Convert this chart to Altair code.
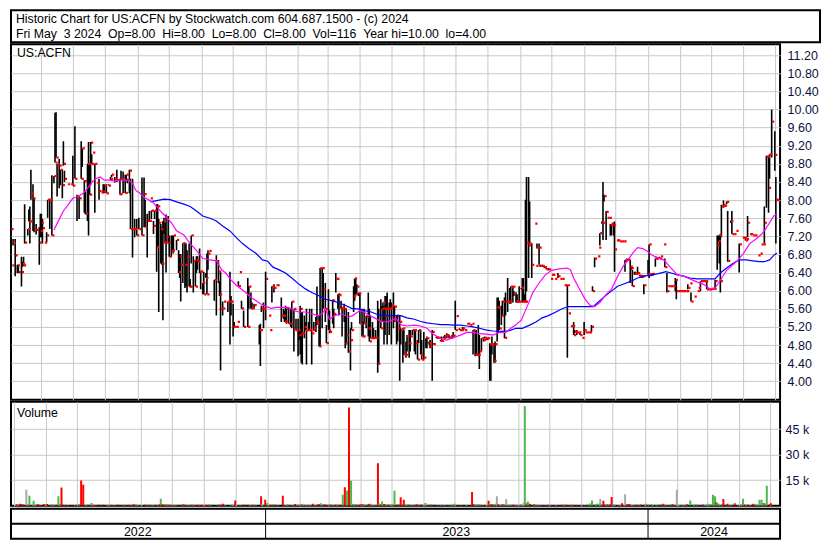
import altair as alt
import numpy as np
import pandas as pd

# ---------------- data ----------------
symbol = "US:ACFN"
header_lines = [
    "Historic Chart for US:ACFN by Stockwatch.com 604.687.1500 - (c) 2024",
    "Fri May \u00a03 2024 \u00a0Op=8.00 \u00a0Hi=8.00 \u00a0Lo=8.00 \u00a0Cl=8.00 \u00a0Vol=116 \u00a0Year hi=10.00 \u00a0lo=4.00",
]
start_date = "2022-05-03"          # first day shown (day offset 0)
end_date = "2024-05-06"            # right edge of the time axis

# trading days, as day offsets from start_date
day_offset = [
    0, 1, 2, 4, 6, 7, 10, 11, 12, 13, 16, 17, 18, 19, 21, 22, 24, 27, 28, 29,
    30, 32, 34, 35, 37, 39, 41, 42, 43, 44, 46, 47, 49, 50, 51, 54, 57, 59, 61, 63,
    65, 67, 68, 70, 71, 73, 74, 75, 76, 77, 78, 80, 82, 84, 86, 88, 89, 91, 93, 95,
    96, 99, 101, 103, 104, 105, 107, 109, 110, 111, 113, 114, 116, 118, 120,
    122, 125, 127, 128, 130, 132, 133, 134, 136, 137, 139, 140, 141, 143, 144, 145, 146, 147, 148, 150,
    151, 153, 154, 155, 158, 160, 161, 162, 164, 166, 167, 168, 170, 171, 172, 174, 176, 177, 178, 180,
    181, 183, 184, 186, 187, 188, 189, 194, 196, 198, 199, 200, 202, 203, 207, 209, 210, 212, 213, 215,
    216, 217, 218, 220, 222, 226, 227, 229, 230, 232, 237, 238, 239, 241, 243,
    246, 247, 249, 251, 253, 254, 258, 260, 261, 262, 263, 265, 267, 268, 270, 271, 272, 274, 275, 276,
    277, 278, 280, 281, 282, 284, 285, 287, 288, 289, 291, 292, 294, 295, 297, 298, 300, 301, 303, 304,
    306, 307, 308, 310, 311, 312, 313, 315, 316, 318, 319, 320, 322, 324, 325, 327, 328, 329, 330, 332,
    333, 335, 336, 337, 339, 341, 342, 343, 345, 346, 348, 350, 351, 353, 354, 355, 356, 357, 358, 359,
    361, 362, 363, 365, 366,
    368, 369, 371, 372, 374, 375, 377, 378, 380, 381, 383, 385, 386, 388, 389, 391, 392, 394, 396, 397,
    399, 400, 402, 403, 406, 408, 410, 411, 413, 414, 416, 418, 419, 421, 422, 424, 425, 428, 430, 431,
    433, 435, 436, 438, 440, 441, 443, 444, 446, 447, 449, 451, 452, 454, 455, 457, 458, 459, 461, 462,
    464, 465, 466, 468, 469, 471, 472, 474, 476, 477, 479, 480, 482, 483, 485, 487, 488,
    489, 490, 491, 492, 494, 495, 497, 500, 501, 502, 504, 505, 507, 509, 511, 513, 515, 516, 517, 519,
    521, 522, 524, 526, 528, 529, 531, 532, 534, 536, 537, 538, 540, 542, 543, 545, 547, 548, 550, 552,
    554, 555, 557, 560, 561, 562, 564, 565, 566, 568, 569, 571, 572, 573, 575, 576, 578, 579, 581, 583,
    585, 586, 588, 589, 591, 592, 593, 595, 596, 598, 600, 601, 603, 604, 608, 609, 611,
    612, 615, 616, 619, 620, 623, 624, 626, 627, 629, 630, 632, 634, 635, 637, 639, 641, 642, 644, 645,
    646, 648, 649, 652, 655, 656, 658, 659, 661, 663, 664, 666, 667, 669, 671, 672, 674, 675, 676, 677,
    678, 680, 681, 683, 684, 687, 688, 690, 692, 695, 698, 700, 701, 702, 703, 705, 706, 708, 710, 713,
    715, 716, 718, 719, 721, 722, 723, 724, 726, 729, 730, 731,
]

high = [
    7.36, 6.56, 7.14, 7.14, 6.57, 6.57, 6.75, 6.64, 6.75, 7.91, 7.36, 7.79, 7.86, 8.67, 8.35, 8.04, 7.47, 7.40, 7.70, 7.70,
    7.58, 7.06, 7.29, 8.01, 8.01, 8.55, 8.53, 9.93, 9.94, 8.80, 8.91, 8.67, 8.68, 9.30, 8.65, 8.35, 8.35, 8.98, 9.63, 8.12,
    8.08, 9.30, 9.14, 8.44, 8.19, 8.80, 9.28, 8.80, 9.28, 9.01, 9.05, 8.80, 8.38, 8.47, 8.17, 8.35, 8.35, 8.35, 8.35, 8.51,
    8.56, 8.51, 8.67, 8.13, 8.47, 8.65, 8.63, 8.56, 8.56, 8.47, 8.67, 8.47, 8.47, 7.58, 7.58,
    7.61, 8.50, 8.50, 8.01, 7.70, 7.76, 8.04, 7.77, 7.54, 7.77, 7.91, 7.91, 7.58, 7.47, 7.40, 7.54, 7.61, 7.50, 7.68, 7.65,
    7.22, 7.22, 7.22, 7.22, 7.12, 6.89, 6.81, 6.81, 7.05, 7.04, 7.05, 6.89, 7.04, 6.26, 7.22, 6.76, 6.68, 6.76, 6.76, 6.93,
    6.42, 6.17, 6.42, 6.39, 6.82, 6.89, 6.88, 6.24, 6.78, 6.68, 6.21, 6.42, 5.76, 5.76, 5.76, 6.42, 5.88, 5.71, 5.31, 5.20,
    5.31, 6.21, 6.41, 5.78, 5.56, 6.28, 6.10, 5.96, 5.74, 5.71, 5.24, 5.27, 5.67, 5.74, 6.42,
    5.45, 5.13, 6.10, 6.14, 6.12, 6.12, 5.85, 5.60, 5.56, 5.67, 5.60, 5.60, 5.60, 5.76, 5.60, 5.13, 5.38, 5.38, 5.13, 5.67,
    5.53, 5.53, 5.45, 5.31, 5.60, 5.31, 5.60, 5.60, 5.13, 5.31, 5.42, 6.09, 5.45, 6.50, 6.50, 6.39, 6.17, 5.24, 6.03, 5.56,
    5.78, 5.80, 5.60, 6.39, 6.26, 5.92, 5.94, 5.78, 5.63, 5.71, 5.45, 5.60, 5.53, 5.17, 5.31, 6.10, 6.27, 6.27, 6.14, 5.96,
    5.94, 5.60, 5.31, 5.60, 5.45, 5.96, 5.60, 5.45, 5.31, 5.17, 5.13, 5.78, 5.60, 5.81, 5.67, 5.74, 5.67, 5.88, 5.88, 5.96,
    5.74, 5.81, 5.74, 5.96, 5.67,
    5.45, 5.45, 5.45, 5.17, 5.17, 5.13, 4.88, 5.02, 5.13, 5.13, 5.13, 5.13, 5.13, 4.91, 5.13, 5.13, 4.91, 5.09, 4.95, 4.99,
    4.88, 4.91, 5.13, 4.84, 4.99, 4.99, 4.91, 4.99, 4.99, 5.02, 5.06, 5.02, 4.99, 5.02, 5.09, 5.78, 5.44, 5.17, 5.13, 5.20,
    5.13, 5.27, 5.27, 5.24, 5.27, 5.13, 5.13, 5.13, 5.24, 5.02, 4.95, 4.95, 4.99, 4.95, 4.95, 4.84, 4.82, 4.99, 4.84, 4.88,
    5.85, 5.85, 5.78, 5.67, 5.78, 5.85, 5.96, 6.28, 6.06, 6.10, 6.10, 5.99, 5.96, 5.92, 6.10, 6.06, 6.28,
    6.28, 5.92, 8.01, 8.51, 8.51, 7.97, 7.04, 7.48, 6.55, 7.04, 7.04, 6.57, 6.57, 6.53, 6.50, 6.50, 6.26, 6.35, 6.35, 6.26,
    6.32, 6.39, 6.26, 6.26, 6.12, 6.12, 6.12, 5.50, 5.22, 5.22, 5.31, 5.13, 5.13, 5.08, 5.06, 4.96, 5.31, 5.08, 5.08, 5.08,
    5.24, 6.10, 6.73, 6.76, 6.95, 7.27, 7.53, 8.40, 8.12, 7.76, 7.61, 7.61, 7.47, 7.48, 7.50, 7.53, 7.11, 7.11, 7.09, 7.09,
    7.09, 6.68, 6.71, 6.68, 6.68, 6.53, 6.46, 6.42, 6.42, 6.53, 6.35, 6.32, 6.32, 6.14, 6.68, 7.02, 6.35,
    6.39, 6.71, 6.75, 6.75, 6.76, 7.02, 6.71, 6.39, 6.10, 6.10, 6.10, 6.10, 6.28, 6.24, 5.99, 5.99, 5.99, 5.99, 5.99, 5.99,
    6.14, 6.16, 5.96, 5.87, 5.99, 6.06, 6.21, 6.21, 6.21, 6.21, 6.21, 6.03, 6.03, 6.06, 6.04, 6.24, 7.22, 7.22, 7.22, 7.25,
    7.90, 7.99, 7.91, 7.97, 7.76, 7.55, 7.76, 7.25, 7.32, 7.04, 7.17, 7.17, 7.18, 7.14, 7.65, 7.25, 7.25, 7.22, 7.22, 6.78,
    6.82, 7.02, 7.02, 7.86, 8.98, 8.96, 8.98, 9.01, 10.00, 9.52, 8.51, 8.00,
]

low = [
    7.36, 6.56, 7.00, 6.32, 6.39, 6.39, 6.09, 6.53, 6.55, 7.04, 7.22, 7.53, 7.04, 8.01, 7.32, 7.29, 7.24, 6.57, 7.18, 7.18,
    7.04, 7.06, 7.07, 7.61, 7.36, 7.22, 8.37, 8.83, 8.94, 8.08, 8.26, 8.33, 8.04, 8.76, 8.40, 8.35, 8.35, 8.32, 8.47, 7.54,
    7.58, 8.47, 8.73, 7.72, 7.68, 7.54, 7.22, 8.12, 8.33, 8.80, 9.05, 7.72, 8.38, 8.01, 8.17, 8.15, 8.15, 8.15, 8.32, 8.44,
    8.51, 8.39, 8.40, 8.13, 8.13, 8.44, 8.15, 8.15, 8.44, 8.37, 8.15, 7.36, 6.73, 7.18, 7.22,
    7.36, 7.22, 7.40, 7.40, 6.73, 7.54, 8.04, 7.58, 7.25, 7.58, 6.42, 6.96, 5.53, 6.60, 6.57, 5.35, 7.25, 7.04, 6.40, 7.04,
    6.75, 6.75, 6.89, 6.82, 6.89, 6.39, 6.28, 5.76, 6.17, 6.06, 6.09, 5.96, 6.09, 6.08, 6.60, 5.96, 6.09, 6.39, 6.46, 6.39,
    6.03, 5.92, 5.92, 6.28, 5.92, 6.46, 6.88, 5.78, 5.45, 6.17, 5.88, 4.24, 5.45, 5.76, 5.53, 4.81, 5.45, 4.99, 5.17, 5.20,
    5.31, 6.10, 6.41, 5.60, 5.20, 5.20, 5.60, 5.60, 5.60, 5.60, 4.81, 4.34, 5.53, 5.17, 5.35,
    5.45, 5.13, 5.74, 5.96, 6.12, 6.12, 5.31, 5.38, 5.31, 5.31, 5.27, 5.27, 5.20, 5.17, 4.66, 5.13, 5.13, 4.55, 4.91, 4.59,
    4.41, 4.37, 4.95, 5.13, 4.37, 5.13, 5.13, 4.37, 5.13, 5.13, 5.09, 5.24, 4.77, 4.77, 5.17, 5.60, 5.31, 4.84, 5.13, 5.06,
    5.78, 5.27, 5.17, 5.96, 6.26, 5.60, 5.45, 5.60, 4.99, 5.31, 4.73, 4.81, 4.63, 4.24, 5.13, 5.53, 5.78, 5.92, 5.92, 5.88,
    5.27, 4.99, 4.99, 5.27, 5.17, 4.99, 4.88, 4.95, 4.95, 4.95, 4.95, 4.19, 4.37, 5.17, 5.60, 5.31, 4.81, 5.02, 5.60, 4.81,
    5.02, 5.60, 4.81, 5.17, 5.31,
    4.81, 4.88, 4.01, 4.81, 4.41, 4.59, 4.52, 4.66, 4.52, 4.66, 5.02, 4.66, 4.59, 4.48, 4.84, 4.59, 4.48, 4.48, 4.73, 4.73,
    4.81, 4.73, 4.01, 4.81, 4.95, 4.95, 4.88, 4.88, 4.95, 4.95, 4.95, 4.95, 4.95, 4.95, 4.95, 5.13, 5.44, 5.13, 5.13, 5.13,
    5.13, 5.27, 5.27, 5.24, 5.27, 4.59, 4.55, 4.59, 4.55, 4.27, 4.66, 4.88, 4.95, 4.91, 4.91, 4.01, 4.01, 4.59, 4.41, 4.41,
    4.88, 5.06, 5.13, 5.24, 5.45, 4.95, 5.45, 5.53, 5.71, 5.71, 5.74, 5.88, 5.74, 5.74, 5.74, 6.03, 5.74,
    5.76, 5.76, 5.76, 5.99, 6.28, 7.04, 6.28, 7.48, 6.55, 6.93, 6.57, 6.53, 6.53, 6.50, 6.47, 6.46, 6.26, 6.35, 6.35, 6.26,
    6.32, 6.28, 6.26, 6.26, 6.12, 6.12, 4.52, 5.50, 5.22, 5.22, 5.02, 5.06, 5.02, 5.06, 5.02, 4.96, 5.02, 5.08, 5.08, 5.08,
    5.08, 5.99, 6.52, 6.76, 6.95, 7.00, 7.48, 7.12, 7.97, 7.12, 7.61, 7.61, 7.22, 7.22, 7.22, 6.42, 7.11, 7.11, 7.09, 7.09,
    7.09, 6.42, 6.64, 6.68, 6.17, 6.46, 6.10, 6.35, 6.35, 6.35, 6.32, 6.28, 6.28, 5.92, 6.35, 6.28, 6.32,
    6.35, 6.53, 6.71, 6.71, 6.76, 7.02, 6.52, 5.96, 6.10, 6.10, 6.10, 6.10, 5.99, 5.81, 5.99, 5.99, 5.99, 5.99, 5.99, 5.99,
    6.03, 6.16, 5.76, 5.87, 5.99, 6.06, 5.99, 6.21, 6.21, 6.21, 6.03, 6.03, 6.03, 6.03, 6.04, 6.03, 6.46, 7.07, 6.60, 5.96,
    7.18, 7.83, 7.86, 7.91, 6.64, 7.50, 7.25, 7.25, 7.32, 6.40, 7.17, 7.17, 7.11, 7.14, 7.18, 7.25, 7.25, 7.22, 7.22, 6.78,
    6.82, 7.02, 7.02, 7.04, 7.83, 8.96, 7.72, 8.47, 8.94, 8.65, 7.04, 8.00,
]

close = [
    7.36, 6.56, 7.06, 6.78, 6.56, 6.41, 6.41, 6.60, 6.56, 7.06, 7.36, 7.53, 7.53, 8.15, 8.04, 7.34, 7.34, 7.06, 7.32, 7.50,
    7.38, 7.06, 7.22, 8.01, 8.01, 7.22, 8.53, 8.83, 8.94, 8.78, 8.76, 8.67, 8.33, 8.80, 8.47, 8.35, 8.35, 8.32, 8.47, 8.08,
    8.04, 8.47, 9.14, 8.42, 7.70, 8.80, 8.80, 8.12, 9.27, 8.80, 9.05, 8.80, 8.38, 8.20, 8.17, 8.19, 8.32, 8.15, 8.32, 8.47,
    8.56, 8.47, 8.44, 8.13, 8.13, 8.47, 8.44, 8.16, 8.56, 8.44, 8.65, 7.36, 7.36, 7.36, 7.22,
    7.36, 7.22, 8.13, 7.40, 7.54, 7.54, 8.04, 7.77, 7.43, 7.77, 6.96, 7.86, 7.50, 7.36, 6.60, 7.07, 7.54, 7.06, 7.18, 7.06,
    6.75, 6.86, 6.89, 7.22, 7.12, 6.41, 6.76, 6.57, 7.05, 6.57, 6.57, 6.75, 6.09, 6.09, 7.22, 6.66, 6.09, 6.68, 6.64, 6.42,
    6.42, 6.17, 5.92, 6.28, 5.92, 6.82, 6.88, 6.24, 6.64, 6.42, 5.92, 5.60, 5.61, 5.76, 5.76, 5.76, 5.76, 5.20, 5.20, 5.20,
    5.31, 6.10, 6.41, 5.61, 5.20, 5.20, 6.09, 5.61, 5.61, 5.68, 5.13, 5.13, 5.61, 5.60, 6.26,
    5.45, 5.13, 6.09, 6.06, 6.12, 6.12, 5.45, 5.45, 5.31, 5.32, 5.61, 5.27, 5.27, 5.76, 5.60, 5.13, 5.13, 5.13, 5.02, 5.60,
    5.06, 5.06, 5.20, 5.13, 5.13, 5.13, 5.13, 5.06, 5.13, 5.17, 5.31, 5.27, 4.77, 6.50, 6.50, 6.03, 5.60, 4.84, 5.13, 5.09,
    5.78, 5.78, 5.49, 6.26, 6.26, 5.92, 5.90, 5.61, 5.63, 5.60, 4.84, 5.02, 4.66, 4.91, 5.13, 5.88, 6.27, 5.92, 6.09, 5.94,
    5.27, 4.99, 4.99, 5.27, 5.42, 5.17, 4.88, 4.95, 4.95, 4.96, 4.96, 4.39, 5.31, 5.17, 5.60, 5.74, 5.61, 5.45, 5.60, 5.61,
    5.60, 5.61, 5.67, 5.35, 5.65,
    5.45, 5.17, 5.31, 5.13, 5.17, 4.59, 4.59, 4.99, 4.84, 4.99, 5.13, 5.13, 4.84, 4.48, 5.13, 4.59, 4.48, 4.52, 4.95, 4.95,
    4.84, 4.77, 5.09, 4.82, 4.96, 4.96, 4.89, 4.89, 4.96, 5.01, 5.02, 4.96, 4.96, 4.99, 5.01, 5.13, 5.44, 5.13, 5.13, 5.17,
    5.13, 5.27, 5.27, 5.24, 5.27, 5.13, 4.59, 4.59, 4.59, 4.66, 4.95, 4.91, 4.96, 4.95, 4.95, 4.81, 4.82, 4.81, 4.45, 4.82,
    5.63, 5.63, 5.17, 5.45, 5.76, 4.96, 5.76, 5.76, 5.76, 6.09, 6.09, 5.94, 5.76, 5.76, 5.76, 6.06, 5.76,
    5.76, 5.76, 5.76, 7.06, 7.00, 7.04, 6.57, 7.48, 6.55, 6.95, 6.95, 6.55, 6.55, 6.52, 6.47, 6.47, 6.26, 6.35, 6.35, 6.26,
    6.32, 6.32, 6.26, 6.26, 6.12, 6.12, 6.12, 5.50, 5.22, 5.22, 5.02, 5.09, 5.08, 5.08, 5.02, 4.96, 5.13, 5.08, 5.08, 5.08,
    5.20, 5.99, 6.71, 6.76, 6.95, 7.27, 7.50, 7.50, 8.09, 7.74, 7.61, 7.61, 7.45, 7.48, 7.45, 6.91, 7.11, 7.11, 7.09, 7.09,
    7.09, 6.68, 6.68, 6.68, 6.53, 6.50, 6.10, 6.37, 6.37, 6.39, 6.33, 6.32, 6.32, 6.12, 6.37, 7.02, 6.35,
    6.37, 6.71, 6.71, 6.71, 6.76, 7.02, 6.52, 5.99, 6.10, 6.10, 6.10, 6.10, 6.24, 5.99, 5.99, 5.99, 5.99, 5.99, 5.99, 5.99,
    6.06, 6.16, 5.76, 5.87, 5.99, 6.06, 6.21, 6.21, 6.21, 6.21, 6.03, 6.03, 6.03, 6.04, 6.04, 6.21, 7.00, 7.09, 7.22, 6.21,
    7.86, 7.88, 7.88, 7.96, 6.66, 7.54, 7.25, 7.25, 7.32, 7.02, 7.17, 7.17, 7.11, 7.14, 7.50, 7.25, 7.25, 7.22, 7.22, 6.78,
    6.82, 7.02, 7.02, 7.50, 8.96, 8.96, 8.27, 9.01, 9.73, 9.00, 8.01, 8.00,
]

# daily volume, thousands of shares
volume_k = [
    0.5, 0.8, 0.6, 1.2, 0.9, 0.7, 9.4, 0.6, 0.5, 5.9, 0.4, 2.9, 0.8, 0.6, 0.9, 0.5, 0.3, 1.0, 0.4, 0.6,
    1.0, 0.3, 0.5, 0.7, 0.4, 0.6, 5.5, 0.8, 0.7, 10.7, 0.5, 0.4, 0.3, 0.6, 0.4, 0.3, 0.4, 0.5, 0.8, 14.8,
    12.3, 0.6, 0.4, 0.5, 0.3, 1.6, 0.7, 0.5, 0.4, 0.3, 0.2, 0.5, 0.3, 0.6, 0.2, 0.4, 0.3, 0.5, 0.3, 0.4,
    0.3, 0.5, 0.4, 0.2, 0.3, 0.5, 0.4, 0.6, 0.3, 0.4, 0.7, 0.9, 1.1, 0.5, 0.4,
    0.4, 0.6, 0.5, 0.3, 0.7, 0.4, 0.2, 0.3, 0.5, 0.4, 0.8, 4.1, 0.9, 0.5, 0.6, 1.0, 0.4, 0.5, 0.7, 0.4,
    0.6, 0.3, 0.4, 0.5, 0.3, 0.6, 0.4, 0.8, 0.5, 0.4, 0.3, 0.5, 0.6, 0.3, 0.5, 0.4, 0.6, 0.3, 0.4, 0.5,
    0.3, 0.4, 0.6, 0.3, 0.5, 0.7, 0.2, 0.4, 0.9, 0.5, 0.4, 1.2, 0.6, 0.2, 0.3, 0.8, 0.5, 3.1, 0.4, 0.2,
    0.2, 0.3, 0.2, 0.5, 0.6, 0.9, 0.4, 0.5, 0.3, 0.4, 5.5, 1.1, 0.6, 3.5, 1.6,
    0.6, 0.4, 0.8, 0.5, 0.3, 0.2, 5.9, 0.6, 0.4, 0.5, 0.7, 0.4, 0.3, 0.6, 1.0, 0.3, 0.4, 0.9, 0.5, 0.8,
    0.7, 1.1, 0.4, 0.3, 0.9, 0.3, 0.5, 1.2, 0.2, 0.4, 0.6, 0.9, 0.8, 1.4, 0.7, 0.9, 0.6, 0.4, 0.8, 0.5,
    0.3, 0.6, 0.5, 0.8, 0.3, 0.4, 0.6, 0.5, 6.4, 10.9, 1.3, 9.0, 57.7, 14.6, 1.1, 0.9, 0.8, 0.5, 0.7, 0.4,
    0.8, 1.0, 0.6, 0.7, 0.5, 0.9, 1.1, 0.6, 0.4, 0.5, 0.3, 25.0, 1.5, 0.8, 2.5, 0.9, 1.0, 0.6, 0.5, 0.8,
    0.5, 0.4, 0.9, 0.7, 8.8,
    0.6, 0.5, 1.0, 4.9, 0.7, 3.5, 0.8, 0.6, 0.5, 0.7, 0.4, 0.6, 0.5, 0.9, 0.6, 0.4, 0.7, 0.5, 1.6, 0.4,
    0.3, 0.5, 0.8, 0.3, 0.2, 0.3, 0.4, 0.3, 0.2, 0.4, 0.3, 0.2, 0.3, 0.4, 0.5, 1.1, 0.3, 0.4, 0.2, 0.3,
    0.2, 0.4, 0.3, 0.2, 0.3, 8.0, 0.9, 0.6, 0.8, 1.0, 0.5, 0.4, 0.3, 0.4, 0.3, 2.9, 1.0, 0.7, 0.9, 0.6,
    1.2, 5.5, 0.8, 0.6, 0.7, 0.9, 0.8, 3.9, 0.5, 0.6, 0.4, 0.5, 0.6, 0.4, 0.5, 0.3, 0.6,
    0.5, 0.4, 1.8, 58.5, 1.5, 2.5, 1.2, 0.5, 0.8, 0.6, 0.7, 0.4, 0.5, 0.3, 0.4, 0.3, 0.5, 0.3, 0.2, 0.3,
    0.2, 0.4, 0.3, 0.2, 0.5, 0.3, 1.0, 0.6, 0.4, 0.3, 0.5, 0.4, 0.3, 0.2, 0.3, 0.4, 0.6, 0.2, 0.3, 0.2,
    0.5, 1.3, 3.1, 0.9, 0.8, 1.1, 1.2, 3.9, 1.0, 2.9, 0.7, 0.5, 0.9, 0.6, 0.8, 5.1, 0.8, 0.4, 0.3, 0.4,
    0.5, 1.4, 0.6, 6.8, 0.9, 0.6, 1.0, 0.5, 0.4, 0.6, 0.5, 0.3, 0.4, 0.7, 0.6, 1.2, 0.5,
    0.5, 0.9, 0.4, 0.3, 0.5, 0.8, 0.6, 1.2, 0.4, 0.3, 0.2, 0.3, 0.8, 0.9, 0.3, 9.4, 0.4, 0.3, 0.2, 0.5,
    0.6, 0.4, 0.9, 3.1, 0.5, 0.6, 0.8, 0.3, 0.2, 0.3, 0.7, 0.3, 0.4, 1.2, 0.3, 0.9, 6.4, 1.5, 5.5, 2.0,
    1.8, 1.2, 0.9, 1.0, 3.9, 0.7, 1.1, 0.5, 0.6, 1.4, 0.4, 0.5, 0.6, 0.4, 4.1, 0.7, 0.5, 0.6, 0.4, 1.1,
    0.8, 0.6, 0.5, 3.5, 3.5, 0.9, 1.6, 1.3, 11.7, 1.0, 1.5, 0.116,
]

# short (magenta) moving average
ma_fast_day = [
    41, 45, 50, 55, 59, 64, 69, 73, 78, 81, 85, 89, 94, 99, 103, 108, 112, 116, 119, 122,
    127, 135, 139, 144, 149, 154, 158, 165, 171, 177, 183, 190, 196, 201, 205, 210, 215, 220, 224, 229,
    234, 238, 242, 248, 254, 260, 265, 270, 275, 281, 287, 293, 297, 300, 304, 309, 315, 322, 326, 333,
    337, 342, 347, 353, 359, 364, 367, 372, 378, 385, 391, 397, 403, 410, 416, 422, 429, 435, 441, 447,
    454, 460, 466, 472, 477, 482, 487, 493, 498, 504, 510, 516, 523, 531, 534, 537, 542, 548, 553, 557,
    562, 568, 573, 579, 584, 589, 593, 598, 603, 608, 612, 617, 623, 630, 636, 642, 648, 655, 661, 667,
    672, 677, 683, 689, 694, 699, 705, 711, 716, 719, 724, 728, 731,
]
ma_fast = [
    7.34, 7.53, 7.76, 7.91, 8.04, 8.08, 8.15, 8.26, 8.42, 8.47, 8.51, 8.44, 8.44, 8.42, 8.44, 8.44, 8.44, 8.37, 8.22, 8.17,
    8.06, 7.96, 7.86, 7.72, 7.61, 7.47, 7.32, 7.23, 7.04, 6.89, 6.71, 6.68, 6.66, 6.46, 6.39, 6.24, 6.12, 6.03, 5.96, 5.85,
    5.78, 5.71, 5.67, 5.61, 5.63, 5.63, 5.63, 5.56, 5.53, 5.53, 5.49, 5.45, 5.49, 5.60, 5.37, 5.45, 5.49, 5.42, 5.45, 5.56,
    5.53, 5.45, 5.40, 5.32, 5.31, 5.35, 5.40, 5.25, 5.22, 5.24, 5.22, 5.17, 5.04, 4.95, 4.91, 4.96, 5.02, 5.08, 5.08, 5.05,
    5.04, 5.02, 5.08, 5.08, 5.17, 5.25, 5.35, 5.67, 5.96, 6.17, 6.35, 6.45, 6.48, 6.50, 6.46, 6.28, 6.06, 5.81, 5.67, 5.65,
    5.74, 5.92, 6.03, 6.32, 6.53, 6.68, 6.82, 6.95, 6.93, 6.86, 6.78, 6.73, 6.68, 6.50, 6.35, 6.32, 6.26, 6.19, 6.14, 6.04,
    6.06, 6.23, 6.45, 6.57, 6.68, 6.82, 7.04, 7.14, 7.24, 7.32, 7.50, 7.65, 7.70,
]

# long (blue) moving average
ma_slow_day = [
    133, 139, 146, 152, 158, 165, 171, 177, 183, 190, 196, 202, 209, 215, 221, 227, 234, 240, 245, 250,
    256, 262, 268, 275, 281, 287, 293, 300, 306, 312, 319, 325, 331, 337, 344, 350, 356, 363, 367, 372,
    378, 385, 391, 397, 403, 410, 416, 422, 429, 435, 441, 447, 454, 460, 466, 472, 477, 482, 488, 495,
    501, 507, 513, 520, 526, 532, 538, 545, 551, 556, 560, 567, 573, 579, 586, 592, 598, 604, 611, 617,
    625, 630, 636, 642, 648, 655, 661, 667, 672, 677, 683, 689, 695, 702, 708, 714, 719, 724, 728, 731,
]
ma_slow = [
    7.96, 7.99, 8.02, 8.01, 7.96, 7.91, 7.86, 7.76, 7.65, 7.60, 7.54, 7.43, 7.32, 7.17, 7.04, 6.93, 6.82, 6.68, 6.65, 6.52,
    6.46, 6.39, 6.28, 6.14, 6.04, 5.96, 5.90, 5.81, 5.78, 5.74, 5.68, 5.61, 5.60, 5.56, 5.53, 5.47, 5.45, 5.45, 5.45, 5.45,
    5.40, 5.37, 5.32, 5.29, 5.27, 5.25, 5.25, 5.24, 5.24, 5.22, 5.20, 5.17, 5.13, 5.11, 5.10, 5.10, 5.13, 5.17, 5.17, 5.24,
    5.31, 5.40, 5.45, 5.53, 5.60, 5.65, 5.65, 5.65, 5.65, 5.65, 5.74, 5.88, 5.99, 6.10, 6.16, 6.21, 6.28, 6.32, 6.35, 6.37,
    6.42, 6.39, 6.35, 6.32, 6.28, 6.26, 6.26, 6.26, 6.26, 6.39, 6.50, 6.60, 6.68, 6.68, 6.66, 6.64, 6.64, 6.68, 6.78, 6.83,
]

price_ticks = [4.00, 4.40, 4.80, 5.20, 5.60, 6.00, 6.40, 6.80, 7.20, 7.60,
               8.00, 8.40, 8.80, 9.20, 9.60, 10.00, 10.40, 10.80, 11.20]
price_domain = [3.59, 11.44]
volume_ticks = [15000, 30000, 45000]
volume_domain = [0, 61000]

year_labels = ["2022", "2023", "2024"]
year_label_dates = ["2022-09-01", "2023-07-02", "2024-03-04"]
year_starts = ["2023-01-01", "2024-01-01"]

# ---------------- tables ----------------
lens = {len(day_offset), len(high), len(low), len(close), len(volume_k)}
if len(lens) != 1:
    raise ValueError(f"lengths {len(day_offset)} {len(high)} {len(low)} {len(close)} {len(volume_k)}")

t0 = pd.Timestamp(start_date)
bars = pd.DataFrame({
    "date": [t0 + pd.Timedelta(days=d) for d in day_offset],
    "high": high, "low": low, "close": close,
    "volume": [round(v * 1000) for v in volume_k],
})
prev = bars["close"].shift(1)
bars["dir"] = np.where(bars["close"] > prev, "up", np.where(bars["close"] < prev, "down", "unch"))

fast_df = pd.DataFrame({"date": [t0 + pd.Timedelta(days=d) for d in ma_fast_day], "value": ma_fast})
slow_df = pd.DataFrame({"date": [t0 + pd.Timedelta(days=d) for d in ma_slow_day], "value": ma_slow})
years_df = pd.DataFrame({"date": pd.to_datetime(year_label_dates), "label": year_labels})
bounds_df = pd.DataFrame({"date": pd.to_datetime(year_starts)})
head_df = pd.DataFrame({"row": [0, 1], "text": header_lines})

# ---------------- chart ----------------
W, AXW = 770, 40
H_HEAD, H_PRICE, H_VOL, H_YEAR = 32, 356, 104, 30
FONT = "Liberation Sans"
GRID = "#c8c8c8"
LABEL = "#101040"
FS_HEAD, FS_AXIS = 12.3, 12.5

e0, e1 = pd.Timestamp(start_date), pd.Timestamp(end_date)
xscale = alt.Scale(domain=[alt.DateTime(year=e0.year, month=e0.month, date=e0.day),
                           alt.DateTime(year=e1.year, month=e1.month, date=e1.day)])
x_grid_axis = alt.Axis(title=None, labels=False, ticks=False, domain=False, grid=True,
                       gridColor=GRID, gridWidth=1,
                       tickCount=alt.TimeIntervalStep(interval="month", step=1),
                       minExtent=0, maxExtent=0)
x_enc = alt.X("date:T", scale=xscale, axis=x_grid_axis)

pscale = alt.Scale(domain=price_domain, nice=False, zero=False)
p_axis = alt.Axis(orient="right", values=price_ticks, tickCount=len(price_ticks) + 5, format=".2f",
                  title=None, ticks=False, domain=False, grid=True, gridColor=GRID, gridWidth=1,
                  labelFont=FONT, labelFontSize=FS_AXIS, labelColor=LABEL, labelPadding=7,
                  labelOverlap=False, minExtent=AXW, maxExtent=AXW)

hl = alt.Chart(bars).mark_rule(color="black", strokeWidth=1.6, clip=True).encode(
    x=x_enc, y=alt.Y("high:Q", scale=pscale, axis=p_axis), y2="low:Q")
cl = alt.Chart(bars).mark_square(size=5, color="#ff0000", opacity=1, xOffset=1.5, clip=True).encode(
    x=alt.X("date:T", scale=xscale), y=alt.Y("close:Q", scale=pscale))
slow = alt.Chart(slow_df).mark_line(color="#0000ff", strokeWidth=1.2, clip=True).encode(
    x=alt.X("date:T", scale=xscale), y=alt.Y("value:Q", scale=pscale))
fast = alt.Chart(fast_df).mark_line(color="#ff00ff", strokeWidth=1.2, clip=True).encode(
    x=alt.X("date:T", scale=xscale), y=alt.Y("value:Q", scale=pscale))
sym = alt.Chart(pd.DataFrame({"t": [symbol]})).mark_text(
    align="left", baseline="middle", font=FONT, fontSize=FS_HEAD, color="black").encode(
    x=alt.value(6), y=alt.value(9), text="t:N")
price = alt.layer(hl, cl, slow, fast, sym).properties(width=W, height=H_PRICE)

v_axis = alt.Axis(orient="right", values=volume_ticks, tickCount=len(volume_ticks) + 5,
                  labelExpr="format(datum.value / 1000, 'd') + ' k'",
                  title=None, ticks=False, domain=False, grid=True, gridColor=GRID, gridWidth=1,
                  labelFont=FONT, labelFontSize=FS_AXIS, labelColor=LABEL, labelPadding=5,
                  labelOverlap=False, minExtent=AXW, maxExtent=AXW)
vbars = alt.Chart(bars).mark_bar(size=2, clip=True).encode(
    x=x_enc,
    y=alt.Y("volume:Q", scale=alt.Scale(domain=volume_domain, nice=False), axis=v_axis),
    color=alt.Color("dir:N", legend=None,
                    scale=alt.Scale(domain=["down", "up", "unch"], range=["#ff0000", "#4cb84c", "#a8a8a8"])),
)
vlabel = alt.Chart(pd.DataFrame({"t": ["Volume"]})).mark_text(
    align="left", baseline="middle", font=FONT, fontSize=FS_HEAD, color="black").encode(
    x=alt.value(6), y=alt.value(11), text="t:N")
volume = alt.layer(vbars, vlabel).properties(width=W, height=H_VOL)

yr_div = alt.Chart(bounds_df).mark_rule(color="black", strokeWidth=1).encode(
    x=alt.X("date:T", scale=xscale, axis=None))
yr_line = alt.Chart(bounds_df.head(1)).mark_rule(color="black", strokeWidth=2).encode(y=alt.value(15))
yr_text = alt.Chart(years_df).mark_text(font=FONT, fontSize=FS_AXIS, baseline="middle", color="black").encode(
    x=alt.X("date:T", scale=xscale, axis=None), y=alt.value(23), text="label:N")
years = alt.layer(yr_div, yr_line, yr_text).properties(width=W, height=H_YEAR)

header = alt.Chart(head_df).mark_text(
    align="left", baseline="middle", font=FONT, fontSize=FS_HEAD, color="black").encode(
    x=alt.value(5),
    y=alt.Y("row:O", axis=None, scale=alt.Scale(type="point", range=[9, 24], padding=0)),
    text="text:N",
).properties(width=W + AXW, height=H_HEAD)

chart = (
    alt.vconcat(header, price, volume, years, spacing=0)
    .properties(padding={"left": 1, "top": 1, "right": 1, "bottom": 1}, background="white")
    .configure_view(stroke="black", strokeWidth=2)
)

chart.save("out.html", embed_options={"renderer": "svg", "actions": False})
